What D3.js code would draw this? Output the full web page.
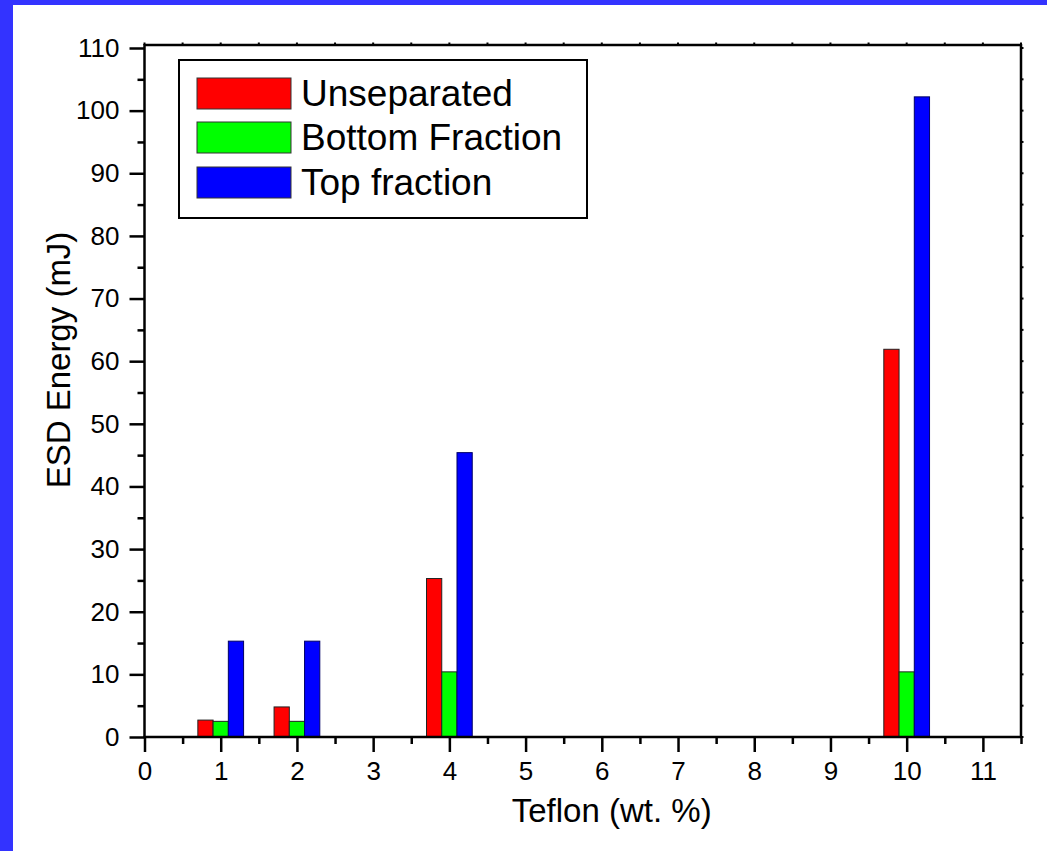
<!DOCTYPE html>
<html>
<head>
<meta charset="utf-8">
<script src="https://cdn.jsdelivr.net/npm/d3@7"></script>
<style>
  html, body { margin: 0; padding: 0; background: #fff; }
  svg { display: block; font-family: "Liberation Sans", Arial, sans-serif; }
</style>
</head>
<body>
<svg id="chart" width="1047" height="851"></svg>
<script>
// ---- data ----
const categories = [1, 2, 4, 10];
const seriesNames = ["Unseparated", "Bottom Fraction", "Top fraction"];
const seriesColors = ["#ff0000", "#00ff00", "#0000ff"];
const unseparated = [2.7, 4.8, 25.3, 61.9];
const bottomFraction = [2.5, 2.5, 10.4, 10.4];
const topFraction = [15.3, 15.3, 45.4, 102.2];
const xTickValues = [0, 1, 2, 3, 4, 5, 6, 7, 8, 9, 10, 11];
const yTickValues = [0, 10, 20, 30, 40, 50, 60, 70, 80, 90, 100, 110];
const xTitle = "Teflon (wt. %)";
const yTitle = "ESD Energy (mJ)";

const seriesValues = [unseparated, bottomFraction, topFraction];

(function () {
const svg = d3.select("#chart");

// blue frame
svg.append("rect").attr("x", 0).attr("y", 0).attr("width", 1047).attr("height", 5).attr("fill", "#3333ff");
svg.append("rect").attr("x", 0).attr("y", 0).attr("width", 13).attr("height", 851).attr("fill", "#3333ff");

const pL = 144.5, pR = 1021, pT = 45, pB = 737;
const x = d3.scaleLinear().domain([0, 11.5]).range([pL, pR]);
const y = d3.scaleLinear().domain([0, 110]).range([pB, 48]);

// bars
const barW = 0.2;
seriesValues.forEach((vals, si) => {
  svg.append("g").selectAll("rect").data(categories).enter().append("rect")
    .attr("x", (c) => x(c + (si - 1.5) * barW))
    .attr("width", (c) => x(c + (si - 0.5) * barW) - x(c + (si - 1.5) * barW))
    .attr("y", (c, i) => y(vals[i]))
    .attr("height", (c, i) => y(0) - y(vals[i]))
    .attr("fill", seriesColors[si])
    .attr("stroke", si === 2 ? "#000066" : "#222")
    .attr("stroke-width", 1);
});

// frame top & right
svg.append("line").attr("x1", pL).attr("x2", pR).attr("y1", pT).attr("y2", pT)
  .attr("stroke", "#000").attr("stroke-width", 2.5);
svg.append("line").attr("x1", pR).attr("x2", pR).attr("y1", pT - 1).attr("y2", pB)
  .attr("stroke", "#000").attr("stroke-width", 2.5);

// tiny ticks on top and right
const xMinor = d3.range(0, 11.51, 0.5);
svg.append("g").selectAll("line").data(xMinor).enter().append("line")
  .attr("x1", (d) => x(d)).attr("x2", (d) => x(d)).attr("y1", pT).attr("y2", pT - 2.5)
  .attr("stroke", "#000").attr("stroke-width", 2);
const yMinor = d3.range(0, 110.1, 5);
svg.append("g").selectAll("line").data(yMinor).enter().append("line")
  .attr("x1", pR).attr("x2", pR + 2.5).attr("y1", (d) => y(d)).attr("y2", (d) => y(d))
  .attr("stroke", "#000").attr("stroke-width", 2);

// bottom axis
const xAxisG = svg.append("g").attr("transform", `translate(0,${pB})`);
xAxisG.call(d3.axisBottom(x).tickValues(xTickValues).tickSize(15).tickPadding(5).tickFormat(d3.format("d")));
const xMinorG = svg.append("g").attr("transform", `translate(0,${pB})`);
xMinorG.call(d3.axisBottom(x).tickValues(d3.range(0.5, 11.6, 1)).tickSize(7).tickFormat(""));

// left axis
const yAxisG = svg.append("g").attr("transform", `translate(${pL},0)`);
yAxisG.call(d3.axisLeft(y).tickValues(yTickValues).tickSize(15).tickPadding(10).tickFormat(d3.format("d")));
const yMinorG = svg.append("g").attr("transform", `translate(${pL},0)`);
yMinorG.call(d3.axisLeft(y).tickValues(d3.range(5, 106, 10)).tickSize(7).tickFormat(""));

[xAxisG, xMinorG, yAxisG, yMinorG].forEach((g) => {
  g.selectAll(".domain").remove();
  g.selectAll(".tick line").attr("stroke", "#000").attr("stroke-width", 2.5);
  g.selectAll(".tick text").attr("fill", "#000").style("font-size", "26px")
    .style("font-family", '"Liberation Sans", Arial, sans-serif');
});
xAxisG.selectAll(".tick text").attr("dy", "0.71em").attr("y", 25);

// axis lines
svg.append("line").attr("x1", pL - 1).attr("x2", pR + 1).attr("y1", pB).attr("y2", pB)
  .attr("stroke", "#000").attr("stroke-width", 2.5);
svg.append("line").attr("x1", pL).attr("x2", pL).attr("y1", pT - 1).attr("y2", pB)
  .attr("stroke", "#000").attr("stroke-width", 2.5);

// titles
svg.append("text").attr("x", x(6.13)).attr("y", 822).attr("text-anchor", "middle")
  .style("font-size", "33px").attr("fill", "#000").text(xTitle);
svg.append("text").attr("transform", "translate(70,360) rotate(-90)").attr("text-anchor", "middle")
  .style("font-size", "33px").attr("fill", "#000").text(yTitle);

// legend
const lg = svg.append("g");
lg.append("rect").attr("x", 179).attr("y", 60).attr("width", 408).attr("height", 158)
  .attr("fill", "#fff").attr("stroke", "#000").attr("stroke-width", 2);
const swTop = [78, 122, 167];
seriesNames.forEach((name, i) => {
  lg.append("rect").attr("x", 197).attr("y", swTop[i]).attr("width", 94).attr("height", 31)
    .attr("fill", seriesColors[i]).attr("stroke", "#333").attr("stroke-width", 1);
  lg.append("text").attr("x", 301).attr("y", swTop[i] + 28).style("font-size", "37px")
    .attr("fill", "#000").text(name);
});
})();
</script>
</body>
</html>
